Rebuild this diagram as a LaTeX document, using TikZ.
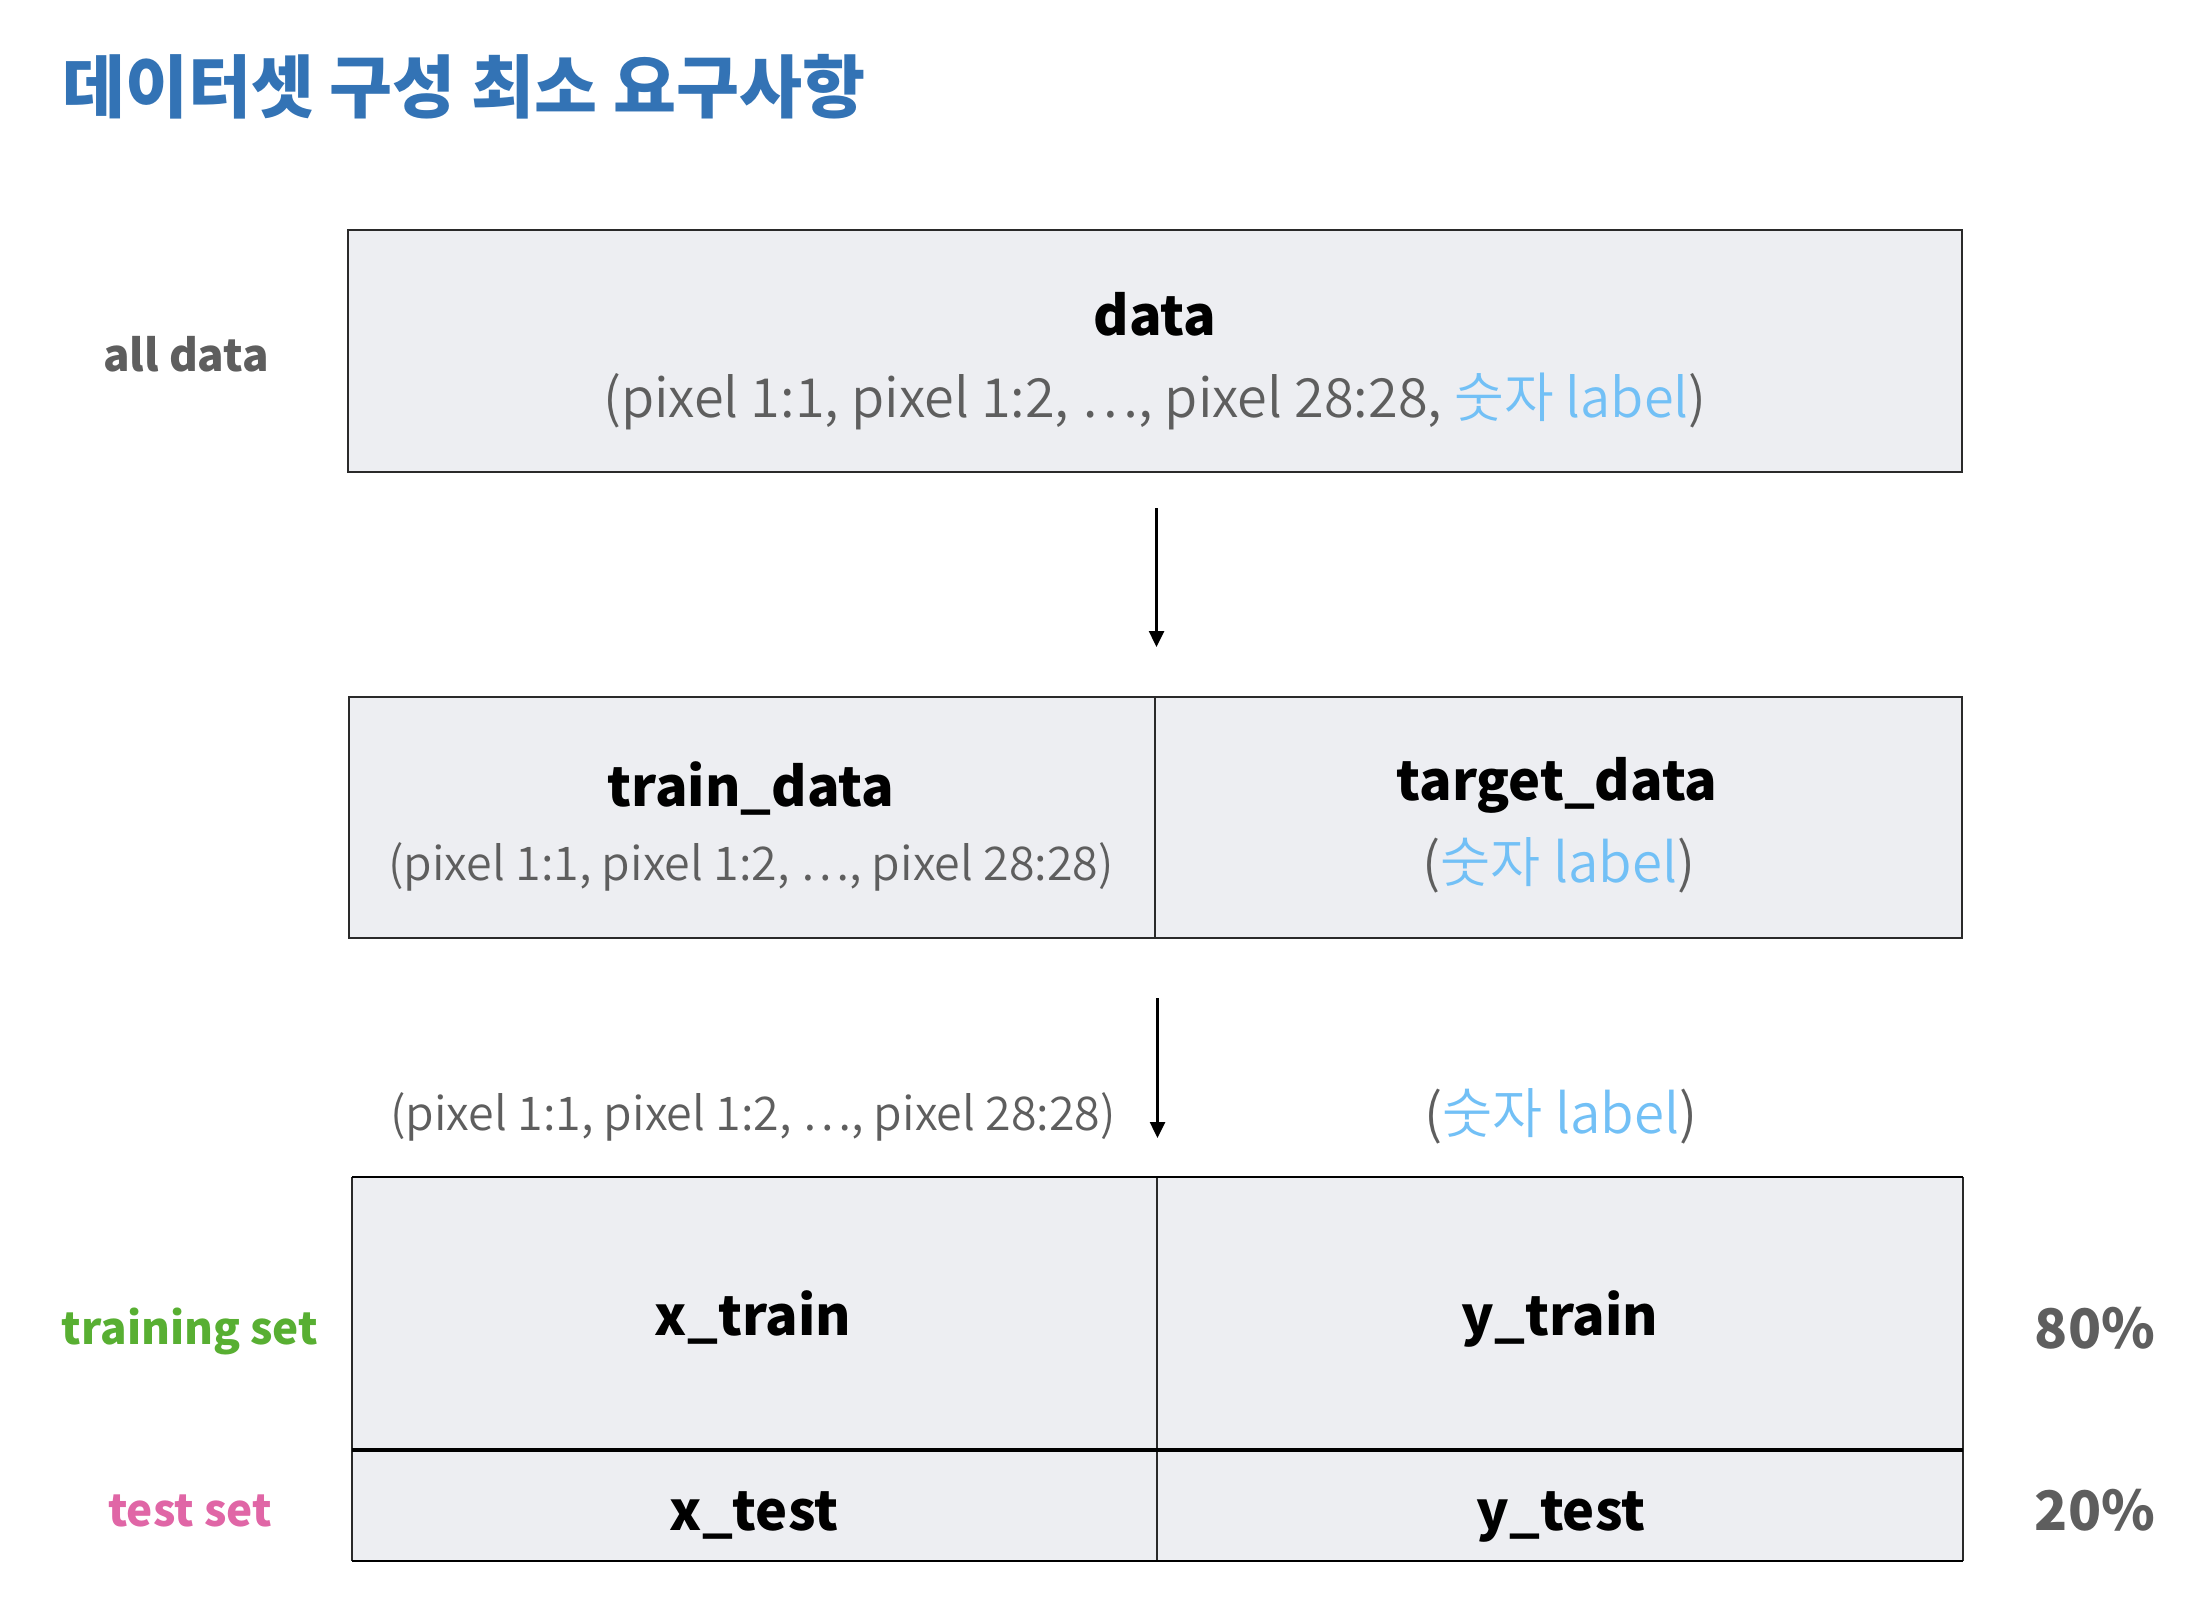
\documentclass[tikz,border=0pt]{standalone}
\usepackage{fontspec}
\setmainfont{Noto Sans CJK KR}
\IfFontExistsTF{Noto Sans CJK KR DemiLight}
  {\newfontfamily\litefont{Noto Sans CJK KR DemiLight}}
  {\IfFontExistsTF{Noto Sans CJK KR Light}
    {\newfontfamily\litefont{Noto Sans CJK KR Light}}
    {\newfontfamily\litefont{Noto Sans CJK KR}}}
\usetikzlibrary{arrows.meta}
\definecolor{titleblue}{HTML}{3373B5}
\definecolor{boxfill}{HTML}{EDEEF2}
\definecolor{txtgray}{HTML}{5E5E5E}
\definecolor{lblue}{HTML}{72C0F6}
\definecolor{tgreen}{HTML}{58AF32}
\definecolor{tpink}{HTML}{E066A6}
\definecolor{edge}{HTML}{2A2A2A}
\begin{document}
\begin{tikzpicture}[x=1pt,y=-1pt,
  box/.style={draw=edge, line width=2.5pt, fill=boxfill, inner sep=0pt, outer sep=0pt, anchor=north west},
  lbl/.style={anchor=base, inner sep=0pt},
  head/.style={lbl, font=\fontsize{54}{64}\selectfont\bfseries},
  subA/.style={lbl, text=txtgray, font=\fontsize{54}{64}\selectfont\litefont},
  subB/.style={lbl, text=txtgray, font=\fontsize{46.5}{54}\selectfont\litefont},
  subC/.style={lbl, text=txtgray, font=\fontsize{54.5}{64}\selectfont\litefont},
  side/.style={lbl, font=\fontsize{44}{52}\selectfont\bfseries},
  pct/.style={lbl, text=txtgray, font=\fontsize{54.5}{64}\selectfont\bfseries},
  flow/.style={line width=2.5pt, -{Triangle[length=16pt,width=15pt]}},
  edgethick/.style={line width=2.8pt, black},
  edgemid/.style={line width=4.5pt, black},
  edgethin/.style={line width=1.5pt, edge}
]
\useasboundingbox[fill=white] (0,0) rectangle (2202,1622);

% title
\node[anchor=base west, inner sep=0pt, text=titleblue, font=\fontsize{68.5}{80}\selectfont\bfseries] (title) at (62,112) {데이터셋 구성 최소 요구사항};

% all data box
\node[box, minimum width=1614pt, minimum height=242pt] (all) at (348,230) {};
\node[head] (data) at (1155,335) {data};
\node[subA] (datasub) at (1155,417) {(pixel 1:1, pixel 1:2, \ldots, pixel 28:28, \textcolor{lblue}{숫자 label})};
\node[side, text=txtgray] (alllbl) at (186,371) {all data};

% split box
\node[box, minimum width=806pt, minimum height=241pt] (train) at (349,697) {};
\node[box, minimum width=807pt, minimum height=241pt] (target) at (1155,697) {};
\node[head] (traint) at (751,806) {train\_data};
\node[subB] (trains) at (751,880) {(pixel 1:1, pixel 1:2, \ldots, pixel 28:28)};
\node[head] (targett) at (1557,800) {target\_data};
\node[subC] (targets) at (1559,882) {(\textcolor{lblue}{숫자 label})};

% labels above final table
\node[subB] (xlab) at (753,1130) {(pixel 1:1, pixel 1:2, \ldots, pixel 28:28)};
\node[subC] (ylab) at (1561,1133) {(\textcolor{lblue}{숫자 label})};

% final table
\node[fill=boxfill, inner sep=0pt, outer sep=0pt, anchor=north west, minimum width=1611pt, minimum height=384pt] (set) at (352,1177) {};
\coordinate (mL) at (352,1450);
\coordinate (mR) at (1963,1450);
\coordinate (dT) at (1157,1177);
\coordinate (dB) at (1157,1561);
\draw[edgethin] (set.north west) -- (set.south west);
\draw[edgethin] (set.north east) -- (set.south east);
\draw[edgethin] (dT) -- (dB);
\draw[edgethick] (set.north west) -- (set.north east);
\draw[edgethick] (set.south west) -- (set.south east);
\draw[edgemid] (mL) -- (mR);

\node[head] (xtr) at (753,1335) {x\_train};
\node[head] (ytr) at (1560,1335) {y\_train};
\node[head] (xte) at (754,1530) {x\_test};
\node[head] (yte) at (1561,1530) {y\_test};

\node[side, text=tgreen] (trlbl) at (190,1344) {training set};
\node[side, text=tpink] (telbl) at (190,1526) {test set};
\node[pct] (p80) at (2095,1348) {80\%};
\node[pct] (p20) at (2095,1530) {20\%};

% arrows
\draw[flow] ([xshift=1.5pt,yshift=-36pt]all.south) -- ([xshift=1.5pt,yshift=50pt]train.north east);
\draw[flow] ([xshift=2.5pt,yshift=-60pt]train.south east) -- ([xshift=0.5pt,yshift=39pt]dT);
\end{tikzpicture}
\end{document}
